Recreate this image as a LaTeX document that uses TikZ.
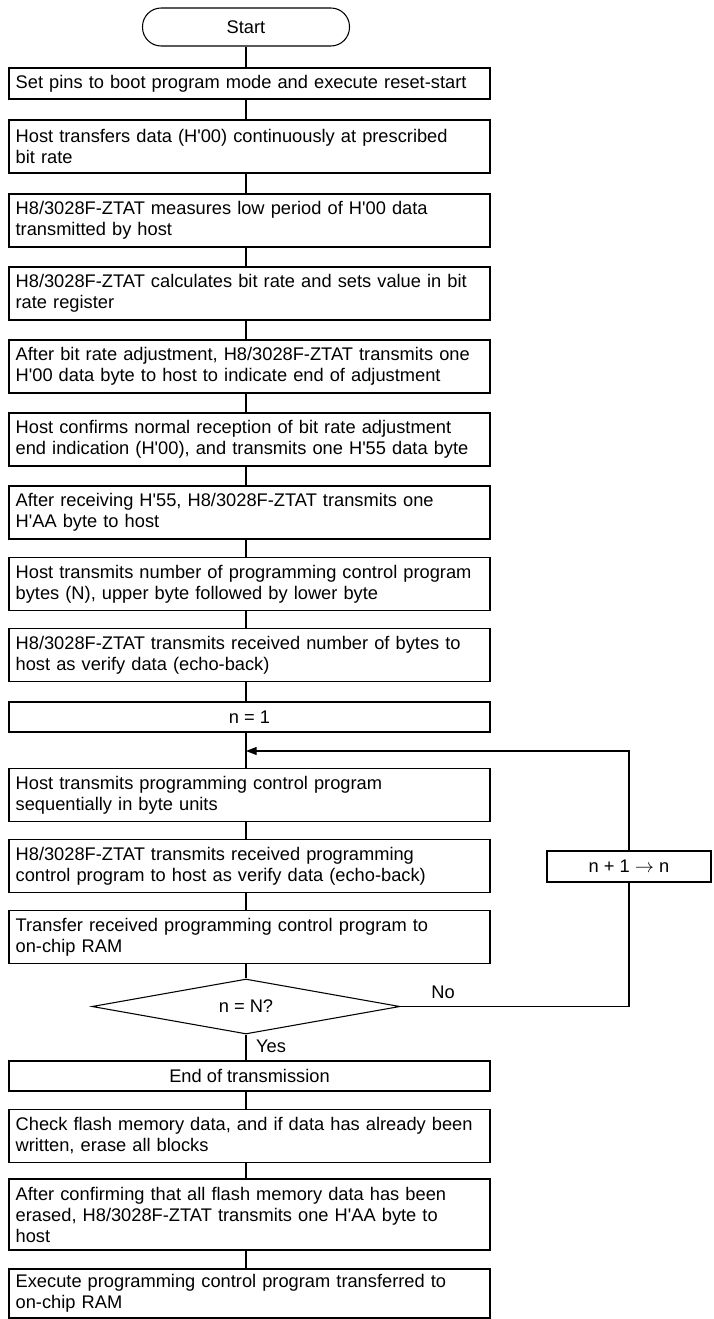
\documentclass[tikz,border=0pt]{standalone}
\usepackage{fontspec}
\newfontfamily\flowfont{Liberation Sans}
\newcommand{\flowtext}{\flowfont\fontsize{13.7}{15.75}\selectfont\hyphenpenalty=10000\relax\exhyphenpenalty=10000\relax}
\usetikzlibrary{shapes.geometric,arrows.meta}
\begin{document}
\begin{tikzpicture}[x=0.75pt, y=-0.75pt,
  txt/.style={font=\flowtext},
  termbox/.style={txt, draw, line width=0.8pt, rounded corners=14pt, minimum width=155.25pt, minimum height=28.5pt},
  procbox/.style={txt, draw, line width=0.8pt, text width=350.75pt, inner xsep=5pt, inner ysep=0pt, align=left},
  procone/.style={procbox, minimum height=23.25pt},
  proctwo/.style={procbox, minimum height=39.75pt},
  procthree/.style={procbox, minimum height=53.25pt},
  midbox/.style={txt, draw, line width=0.8pt, minimum width=360.75pt, align=center},
  decbox/.style={txt, draw, line width=0.8pt, diamond, aspect=5.6, inner sep=0pt, minimum width=231pt, minimum height=41.25pt},
  flowline/.style={draw, line width=0.8pt},
  arrowline/.style={flowline, -{Triangle[length=8pt,width=6pt]}}
]
\useasboundingbox (0,0) rectangle (713,1319);

\node[termbox] (start) at (246,27) {Start};
\node[procone] (pins) at (249.5,83.5) {Set pins to boot program mode and execute reset-start};
\node[proctwo] (sync) at (249.5,146.5) {Host transfers data (H'00) continuously at prescribed\\bit rate};
\node[proctwo] (measure) at (249.5,220.5) {H8/3028F-ZTAT measures low period of H'00 data\\transmitted by host};
\node[proctwo] (calc) at (249.5,293.5) {H8/3028F-ZTAT calculates bit rate and sets value in bit\\rate register};
\node[proctwo] (adjend) at (249.5,366.5) {After bit rate adjustment, H8/3028F-ZTAT transmits one\\H'00 data byte to host to indicate end of adjustment};
\node[proctwo] (confirm) at (249.5,439.5) {Host confirms normal reception of bit rate adjustment\\end indication (H'00), and transmits one H'55 data byte};
\node[proctwo] (ackaa) at (249.5,512.5) {After receiving H'55, H8/3028F-ZTAT transmits one\\H'AA byte to host};
\node[proctwo] (count) at (249.5,584) {Host transmits number of programming control program\\bytes (N), upper byte followed by lower byte};
\node[proctwo] (echo) at (249.5,655) {H8/3028F-ZTAT transmits received number of bytes to\\host as verify data (echo-back)};
\node[midbox, minimum height=22.5pt] (ninit) at (249.5,717) {n = 1};
\coordinate (jn) at (246,751);
\node[proctwo] (send) at (249.5,795) {Host transmits programming control program\\sequentially in byte units};
\node[proctwo] (verify) at (249.5,866) {H8/3028F-ZTAT transmits received programming\\control program to host as verify data (echo-back)};
\node[proctwo] (copy) at (249.5,937) {Transfer received programming control program to\\on-chip RAM};
\node[decbox] (test) at (246,1006.5) {n = N?};
\node[midbox, minimum height=22.5pt] (done) at (249.5,1076) {End of transmission};
\node[proctwo] (erase) at (249.5,1136) {Check flash memory data, and if data has already been\\written, erase all blocks};
\node[procthree] (erased) at (249.5,1214.5) {After confirming that all flash memory data has been\\erased, H8/3028F-ZTAT transmits one H'AA byte to\\host};
\node[proctwo, minimum height=36.75pt] (run) at (249.5,1293.5) {Execute programming control program transferred to\\on-chip RAM};
\node[midbox, minimum width=123pt, minimum height=23.25pt] (incr) at (629,866.5) {n + 1 $\rightarrow$ n};
\node[txt] (nolbl) at (443,992) {No};
\node[txt] (yeslbl) at (271,1046) {Yes};

\draw[flowline] (start) -- (start |- pins.north);
\draw[flowline] (pins.south -| start) -- (sync.north -| start);
\draw[flowline] (sync.south -| start) -- (measure.north -| start);
\draw[flowline] (measure.south -| start) -- (calc.north -| start);
\draw[flowline] (calc.south -| start) -- (adjend.north -| start);
\draw[flowline] (adjend.south -| start) -- (confirm.north -| start);
\draw[flowline] (confirm.south -| start) -- (ackaa.north -| start);
\draw[flowline] (ackaa.south -| start) -- (count.north -| start);
\draw[flowline] (count.south -| start) -- (echo.north -| start);
\draw[flowline] (echo.south -| start) -- (ninit.north -| start);
\draw[flowline] (ninit.south -| start) -- (send.north -| start);
\draw[flowline] (send.south -| start) -- (verify.north -| start);
\draw[flowline] (verify.south -| start) -- (copy.north -| start);
\draw[flowline] (copy.south -| start) -- (test.north);
\draw[flowline] (test.south) -- (done.north -| start);
\draw[flowline] (done.south -| start) -- (erase.north -| start);
\draw[flowline] (erase.south -| start) -- (erased.north -| start);
\draw[flowline] (erased.south -| start) -- (run.north -| start);
\draw[flowline] (test.east) -- (test.east -| incr) -- (incr.south);
\draw[arrowline] (incr.north) -- (incr.north |- jn) -- (jn);

\end{tikzpicture}
\end{document}
